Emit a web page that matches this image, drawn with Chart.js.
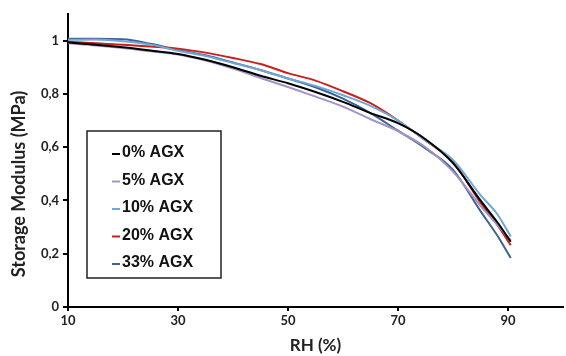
<!DOCTYPE html>
<html>
<head>
<meta charset="utf-8">
<script src="https://cdn.jsdelivr.net/npm/chart.js@4"></script>
<style>
  html, body { margin: 0; padding: 0; background: #fff; }
  #wrap { width: 566px; height: 356px; }
</style>
</head>
<body>
<div id="wrap"><canvas id="modulusChart" width="566" height="356"></canvas></div>
<script>
// Storage modulus vs RH
const rh = [10, 15, 20, 25, 30, 35, 40, 45, 50, 55, 60, 65, 70, 75, 80, 85, 88, 90.5];

const agx0  = [0.993, 0.985, 0.975, 0.963, 0.950, 0.928, 0.900, 0.868, 0.840, 0.807, 0.770, 0.728, 0.690, 0.630, 0.540, 0.400, 0.320, 0.245];
const agx5  = [0.990, 0.982, 0.972, 0.960, 0.948, 0.925, 0.895, 0.860, 0.826, 0.790, 0.752, 0.705, 0.660, 0.600, 0.508, 0.380, 0.310, 0.250];
const agx10 = [1.003, 1.004, 0.998, 0.985, 0.962, 0.942, 0.916, 0.889, 0.858, 0.830, 0.795, 0.755, 0.700, 0.625, 0.552, 0.420, 0.350, 0.265];
const agx20 = [0.996, 0.990, 0.985, 0.978, 0.970, 0.955, 0.935, 0.912, 0.878, 0.850, 0.810, 0.765, 0.700, 0.625, 0.545, 0.392, 0.310, 0.232];
const agx33 = [1.007, 1.007, 1.005, 0.988, 0.965, 0.945, 0.918, 0.890, 0.858, 0.825, 0.782, 0.728, 0.662, 0.595, 0.515, 0.360, 0.270, 0.184];

const seriesLabels = ['0% AGX', '5% AGX', '10% AGX', '20% AGX', '33% AGX'];
const seriesColors = ['#000000', '#a294c4', '#6ea8d3', '#c8211c', '#3b6495'];

const xTicks = [10, 30, 50, 70, 90];
const yTicks = [0, 0.2, 0.4, 0.6, 0.8, 1];
const yTickLabels = ['0', '0,2', '0,4', '0,6', '0,8', '1'];
const yTitle = 'Storage Modulus (MPa)';

const toPoints = vals => vals.map((v, i) => ({ x: rh[i], y: v }));
const allSeries = [agx0, agx5, agx10, agx20, agx33];

// legend box inside the plot area + y title (sits a bit below centre in the original)
const boxLegend = {
    id: 'boxLegend',
    afterDraw(chart) {
        const ctx = chart.ctx;
        const area = chart.chartArea;
        const left = area.left + 19;
        const top = area.top + 117;
        const w = 134;
        const h = 147;
        ctx.save();
        ctx.fillStyle = '#fff';
        ctx.fillRect(left, top, w, h);
        ctx.strokeStyle = '#222';
        ctx.lineWidth = 1.5;
        ctx.strokeRect(left, top, w, h);
        ctx.font = "bold 16px 'Liberation Sans', Arial, sans-serif";
        ctx.textBaseline = 'middle';
        chart.data.datasets.forEach((ds, i) => {
            const y = top + 22 + i * 27.5;
            ctx.strokeStyle = ds.borderColor;
            ctx.lineWidth = 2;
            ctx.beginPath();
            ctx.moveTo(left + 25, y + 1);
            ctx.lineTo(left + 33, y + 1);
            ctx.stroke();
            ctx.fillStyle = '#111';
            ctx.fillText(ds.label, left + 35, y);
        });

        // y axis title
        ctx.translate(19, area.top + 170);
        ctx.rotate(-Math.PI / 2);
        ctx.font = "bold 18px Lato, sans-serif";
        ctx.fillStyle = '#222';
        ctx.textAlign = 'center';
        ctx.textBaseline = 'middle';
        ctx.fillText(yTitle, 0, 0);
        ctx.restore();
    }
};

const tickFont = { family: 'Lato', size: 13, weight: 'bold' };
const titleFont = { family: 'Lato', size: 17, weight: 'bold' };

new Chart(document.getElementById('modulusChart'), {
    type: 'line',
    data: {
        datasets: allSeries.map((vals, i) => ({
            label: seriesLabels[i],
            data: toPoints(vals),
            borderColor: seriesColors[i],
            backgroundColor: seriesColors[i],
            borderWidth: 2,
            pointRadius: 0,
            cubicInterpolationMode: 'monotone',
            fill: false
        }))
    },
    options: {
        responsive: false,
        animation: false,
        layout: { padding: { top: 14, right: 3, left: 0, bottom: 0 } },
        plugins: {
            legend: { display: false },
            tooltip: { enabled: false }
        },
        scales: {
            x: {
                type: 'linear',
                min: 10,
                max: 100,
                afterBuildTicks: scale => { scale.ticks = xTicks.map(v => ({ value: v })); },
                afterFit: scale => { scale.height = 49; },
                border: { color: '#000', width: 2 },
                grid: { display: true, drawOnChartArea: false, drawTicks: true, tickLength: 4, color: '#000', lineWidth: 2 },
                ticks: { color: '#222', font: tickFont, padding: 2, maxRotation: 0 },
                title: { display: true, text: 'RH (%)', color: '#222', font: titleFont, padding: { top: 0, bottom: 0 } }
            },
            y: {
                min: 0,
                max: 1.1,
                afterBuildTicks: scale => { scale.ticks = yTicks.map(v => ({ value: v })); },
                afterFit: scale => { scale.width = 68; },
                border: { color: '#000', width: 2 },
                grid: { display: true, drawOnChartArea: false, drawTicks: true, tickLength: 5, color: '#000', lineWidth: 2 },
                ticks: {
                    color: '#222',
                    font: tickFont,
                    padding: 4,
                    callback: function(value, index) { return yTickLabels[index]; }
                },
                title: { display: false }
            }
        }
    },
    plugins: [boxLegend]
});
</script>
</body>
</html>
